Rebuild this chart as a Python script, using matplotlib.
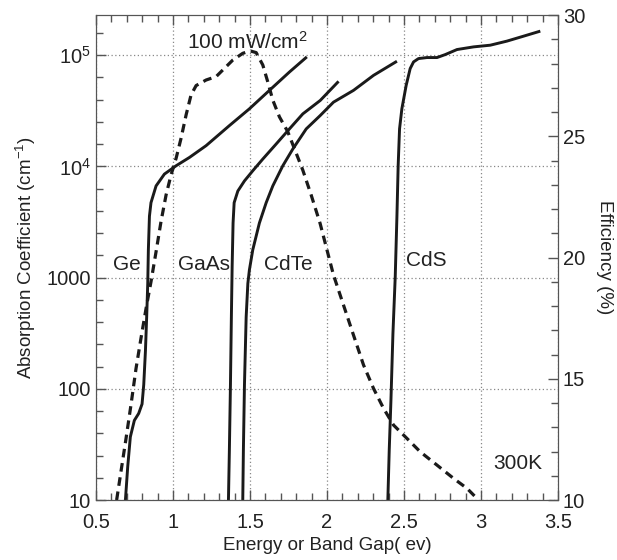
import numpy as np
import matplotlib
matplotlib.use("Agg")
import matplotlib.pyplot as plt
from matplotlib.ticker import FixedLocator, MultipleLocator

plt.rcParams["font.family"] = ["Liberation Sans", "DejaVu Sans"]
plt.rcParams["mathtext.fontset"] = "custom"
plt.rcParams["mathtext.rm"] = "Liberation Sans"
plt.rcParams["mathtext.it"] = "Liberation Sans:italic"

# absorption coefficient curves (energy in eV, alpha in cm^-1)
ge_e = [0.691, 0.706, 0.723, 0.749, 0.777, 0.799, 0.810, 0.821, 0.829, 0.836,
        0.840, 0.847, 0.857, 0.890, 0.944, 1.020, 1.107, 1.215, 1.366, 1.496,
        1.626, 1.756, 1.869]
ge_a = [10, 20, 37, 52, 60, 73, 109, 220, 442, 887,
        1780, 3570, 4720, 6680, 8530, 10140, 12050, 15380, 23280, 32960,
        48300, 70630, 96600]

gaas_e = [1.360, 1.366, 1.373, 1.379, 1.384, 1.390, 1.397, 1.421, 1.464, 1.518,
          1.583, 1.670, 1.756, 1.843, 1.956, 2.075]
gaas_a = [10, 28, 109, 442, 1259, 3100, 4720, 6010, 7410, 9140,
          11650, 15920, 21750, 29700, 39200, 58200]

cdte_e = [1.453, 1.457, 1.464, 1.475, 1.486, 1.496, 1.518, 1.561, 1.605, 1.648,
          1.713, 1.778, 1.865, 1.956, 2.042, 2.172, 2.302, 2.454]
cdte_a = [10, 28, 109, 442, 887, 1172, 1780, 3100, 4720, 6680,
          10140, 14350, 21750, 28700, 37840, 48300, 65900, 88300]

cds_e = [2.395, 2.404, 2.415, 2.428, 2.443, 2.454, 2.462, 2.471, 2.486, 2.514,
         2.540, 2.562, 2.594, 2.649, 2.714, 2.768, 2.844, 2.952, 3.060, 3.168,
         3.277, 3.385]
cds_a = [10, 28, 78, 312, 1020, 3570, 10140, 21750, 32960, 53550,
         75860, 87100, 93300, 95300, 95300, 101400, 112500, 118900, 123100, 133900,
         148500, 164700]

# efficiency at 100 mW/cm2 (right axis)
eff_e = [0.634, 0.662, 0.695, 0.727, 0.760, 0.792, 0.825, 0.857, 0.890, 0.922,
         0.955, 0.987, 1.020, 1.052, 1.085, 1.117, 1.150, 1.215, 1.280, 1.334,
         1.388, 1.453, 1.501, 1.540, 1.583, 1.615, 1.648, 1.691, 1.745, 1.800,
         1.843, 1.897, 1.955, 2.042, 2.172, 2.237, 2.302, 2.367, 2.432, 2.519,
         2.605, 2.714, 2.822, 2.909, 2.973]
eff_v = [10.0, 11.17, 12.54, 13.92, 15.43, 16.67, 17.90, 19.00, 20.24, 21.48,
         22.58, 23.40, 24.09, 24.91, 25.88, 26.70, 27.09, 27.32, 27.46, 27.80,
         28.14, 28.42, 28.52, 28.45, 27.94, 27.25, 26.49, 25.80, 25.19, 24.30,
         23.60, 22.58, 21.41, 19.28, 16.80, 15.57, 14.60, 13.78, 13.09, 12.54,
         11.99, 11.44, 10.89, 10.48, 10.07]

left_ticks = [10, 100, 1000, 1e4, 1e5]
left_labels = ["10", "100", "1000", "$10^4$", "$10^5$"]
x_ticks = [0.5, 1, 1.5, 2, 2.5, 3, 3.5]
x_labels = ["0.5", "1", "1.5", "2", "2.5", "3", "3.5"]

spine_col = "#555555"
text_col = "#222222"

fig = plt.figure(figsize=(6.17, 5.6), dpi=100)
ax = fig.add_axes([0.1556, 0.1071, 0.7488, 0.8661])

for e, a in [(ge_e, ge_a), (gaas_e, gaas_a), (cdte_e, cdte_a), (cds_e, cds_a)]:
    ax.plot(e, a, color="#1a1a1a", lw=2.1, solid_capstyle="butt")

ax.set_yscale("log")
ax.set_xlim(0.5, 3.5)
ax.set_ylim(10, 2.3e5)

ax.set_xticks(x_ticks)
ax.set_xticklabels(x_labels)
ax.xaxis.set_minor_locator(MultipleLocator(0.1))

ax.yaxis.set_major_locator(FixedLocator(left_ticks))
ax.set_yticklabels(left_labels)
minor = [10 ** (k + 0.2 * j) for k in range(1, 6) for j in range(1, 5)]
ax.yaxis.set_minor_locator(FixedLocator(minor))

ax.grid(True, which="major", color="#888888", ls=(0, (1, 2)), lw=0.9)

ax.tick_params(which="both", direction="in", top=True, right=False,
               colors=spine_col, labelcolor=text_col, labelsize=14.5)
ax.tick_params(axis="x", pad=9)
ax.tick_params(which="major", length=7, width=1)
ax.tick_params(which="minor", length=5, width=1)
for s in ax.spines.values():
    s.set_color(spine_col)

ax.set_xlabel("Energy or Band Gap( ev)", fontsize=13.5, color=text_col, labelpad=4)
ax.set_ylabel("Absorption Coefficient (cm$^{-1}$)", fontsize=13.5, color=text_col,
              labelpad=6)

ax2 = ax.twinx()
ax2.plot(eff_e, eff_v, color="#1a1a1a", lw=2.3, ls=(0, (2.7, 1.8)))
ax2.set_ylim(10, 30)
ax2.yaxis.set_major_locator(MultipleLocator(5))
ax2.yaxis.set_minor_locator(MultipleLocator(1))
ax2.tick_params(which="both", direction="in", colors=spine_col,
                labelcolor=text_col, labelsize=14.5)
ax2.tick_params(which="major", length=7, width=1)
ax2.tick_params(which="minor", length=5, width=1)
for s in ax2.spines.values():
    s.set_color(spine_col)
ax2.set_ylabel("Efficiency (%)", fontsize=13.5, color=text_col, rotation=270,
               labelpad=20)

# curve labels
ax.text(0.699, 1310, "Ge", fontsize=15, color=text_col, ha="center", va="center")
ax.text(1.202, 1310, "GaAs", fontsize=15, color=text_col, ha="center", va="center")
ax.text(1.748, 1310, "CdTe", fontsize=15, color=text_col, ha="center", va="center")
ax.text(2.644, 1420, "CdS", fontsize=15, color=text_col, ha="center", va="center")
ax.text(3.242, 21.5, "300K", fontsize=15, color=text_col, ha="center", va="center")
ax.text(1.481, 1.31e5, "100 mW/cm$^2$", fontsize=15, color=text_col,
        ha="center", va="center")

fig.savefig("out.png", dpi=100)
